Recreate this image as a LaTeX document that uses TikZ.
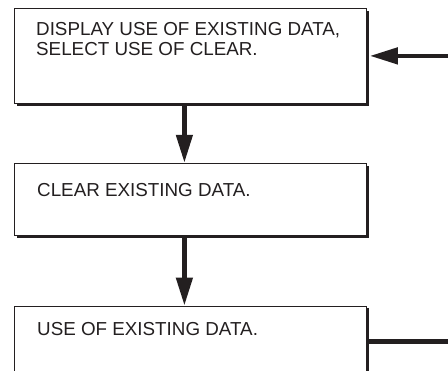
\documentclass[tikz,border=0pt]{standalone}
\usepackage{fontspec}
\setmainfont{Liberation Sans}
\usetikzlibrary{arrows.meta, positioning, shadows}
\definecolor{ink}{HTML}{231F20}

\begin{document}
\begin{tikzpicture}[
    x=1pt, y=1pt,
    box/.style={
        rectangle,
        draw=ink,
        fill=white,
        line width=0.8pt,
        minimum width=352pt,
        inner sep=0pt,
        drop shadow={shadow xshift=2.5pt, shadow yshift=-2.5pt, opacity=1, fill=ink}
    },
    boxtext/.style={
        anchor=north west,
        align=left,
        inner sep=0pt,
        text=ink,
        font=\fontsize{18.8}{20}\selectfont
    },
    arrow/.style={-{Triangle[length=28pt, width=16pt]}, line width=4.5pt, ink}
]
\useasboundingbox (0,0) rectangle (448,-371);
\clip (0,0) rectangle (448,-371);

\node[box, minimum height=95pt, anchor=north west] (display) at (14,-8) {};
\node[box, minimum height=72pt, below=59pt of display] (clear) {};
\node[box, minimum height=71pt, below=70pt of clear] (use) {};

\node[boxtext] (displaytext) at ([shift={(22pt,-14pt)}]display.north west)
    {DISPLAY USE OF EXISTING DATA,\\SELECT USE OF CLEAR.};
\node[boxtext] (cleartext) at ([shift={(23pt,-20pt)}]clear.north west)
    {CLEAR EXISTING DATA.};
\node[boxtext] (usetext) at ([shift={(23pt,-17pt)}]use.north west)
    {USE OF EXISTING DATA.};

\coordinate (return) at (470,0);

\draw[arrow] ([xshift=-6pt]display.south) -- ([xshift=-6pt]clear.north);
\draw[arrow] ([xshift=-6pt]clear.south) -- ([xshift=-6pt]use.north);
\draw[arrow] (use.east) -- (use.east -| return) |- ([xshift=3pt]display.east);

\end{tikzpicture}
\end{document}
